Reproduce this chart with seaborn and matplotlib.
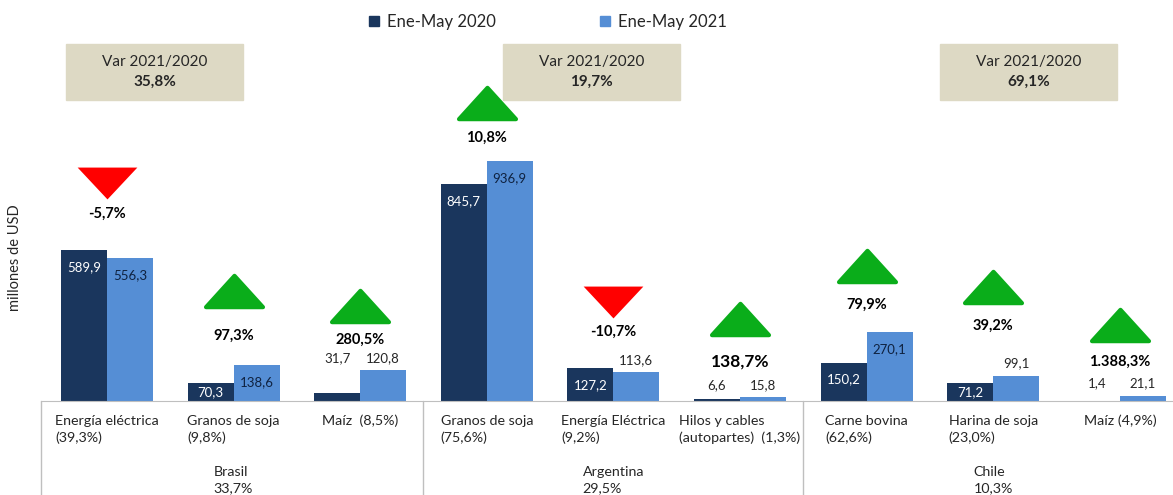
import matplotlib.pyplot as plt
import matplotlib.patches as mpatches
import matplotlib.transforms as mtransforms
from matplotlib.path import Path
from matplotlib.markers import MarkerStyle
import pandas as pd
import seaborn as sns

sns.set_style("white")
plt.rcParams["font.family"] = ["Lato", "DejaVu Sans"]

DARK = "#1A365D"; LIGHT = "#558ED5"
GREEN = "#0AAD1A"; RED = "#FF0000"
TAN = "#DDD9C4"; LINE = "#BFBFBF"; TXT = "#262626"

# ---------------------------------------------------------------------------
# Datos
# ---------------------------------------------------------------------------
productos = ["Energía eléctrica\n(39,3%)", "Granos de soja\n(9,8%)", "Maíz  (8,5%)",
             "Granos de soja\n(75,6%)", "Energía Eléctrica\n(9,2%)",
             "Hilos y cables\n(autopartes)  (1,3%)",
             "Carne bovina\n(62,6%)", "Harina de soja\n(23,0%)", "Maíz (4,9%)"]
ene_may_2020 = [589.9, 70.3, 31.7, 845.7, 127.2, 6.6, 150.2, 71.2, 1.4]
ene_may_2021 = [556.3, 138.6, 120.8, 936.9, 113.6, 15.8, 270.1, 99.1, 21.1]
variacion = ["-5,7%", "97,3%", "280,5%", "10,8%", "-10,7%", "138,7%",
             "79,9%", "39,2%", "1.388,3%"]
paises = ["Brasil\n33,7%", "Argentina\n29,5%", "Chile\n10,3%"]
var_pais = ["35,8%", "19,7%", "69,1%"]
periodos = ["Ene-May 2020", "Ene-May 2021"]

# donde va cada etiqueta de valor (dentro de la barra o encima)
dentro_2020 = [True, True, False, True, True, False, True, True, False]
dentro_2021 = [True, True, False, True, False, False, True, False, False]
# altura (px) del % de variacion sobre la barra mas alta, y del triangulo sobre el %
badge_lift = [36, 30, 30, 23, 37, 35, 27, 50, 34]
tri_gap = [14, 28, 18, 18, 13, 26, 22, 22, 20]

df = pd.DataFrame({
    "producto": productos * 2,
    "periodo": [periodos[0]] * 9 + [periodos[1]] * 9,
    "valor": ene_may_2020 + ene_may_2021,
})

# ---------------------------------------------------------------------------
# Figura
# ---------------------------------------------------------------------------
W, H, DPI = 1173, 495, 100
fig = plt.figure(figsize=(W / DPI, H / DPI), dpi=DPI)
ax = fig.add_axes([41 / W, 94 / H, (W - 41) / W, 401 / H])

sns.barplot(data=df, x="producto", y="valor", hue="periodo", order=productos,
            hue_order=periodos, palette=[DARK, LIGHT], saturation=1,
            width=0.727, gap=0, linewidth=0, legend=False, ax=ax)

PX = 0.2562  # px por millon de USD
ax.set_ylim(0, 401 / PX)
ax.set_xlim(-0.521, 8.42)
ax.set_xlabel(""); ax.set_ylabel("")
ax.set_yticks([])
ax.tick_params(axis="x", length=0, pad=10)
ax.set_xticks(range(9))
ax.set_xticklabels(productos, fontsize=10.3, color=TXT, multialignment="left",
                   linespacing=1.45)
for s in ["top", "right", "left"]:
    ax.spines[s].set_visible(False)
ax.spines["bottom"].set_color(LINE)

# separadores de paises bajo el eje
sep_tr = mtransforms.blended_transform_factory(ax.transData, ax.transAxes)
for xs in [-0.521, 2.5, 5.5]:
    ax.plot([xs, xs], [0, -94 / 401], color=LINE, lw=1, transform=sep_tr, clip_on=False)
for j, txt in enumerate(paises):
    ax.text(1 + 3 * j, -(480 - 401) / 401, txt, transform=sep_tr, ha="center",
            va="center", multialignment="left", fontsize=10.3, color=TXT,
            linespacing=1.4)

# etiquetas de valor
def fmt(v):
    return f"{v:.1f}".replace(".", ",")

bars20, bars21 = ax.containers[0], ax.containers[1]
for i in range(9):
    outs = [v for v, d in ((ene_may_2020[i], dentro_2020[i]),
                           (ene_may_2021[i], dentro_2021[i])) if not d]
    out_top = max(outs) if outs else 0
    for bar, val, d, c_in in ((bars20[i], ene_may_2020[i], dentro_2020[i], "white"),
                              (bars21[i], ene_may_2021[i], dentro_2021[i], "#0F2240")):
        cx = bar.get_x() + bar.get_width() / 2
        if d:
            off = -min(17, val * PX / 2)
            ax.annotate(fmt(val), (cx, val), xytext=(0, off * 0.72),
                        textcoords="offset points", ha="center", va="center",
                        fontsize=9.5, color=c_in)
        else:
            ax.annotate(fmt(val), (cx, out_top), xytext=(0, 12 * 0.72),
                        textcoords="offset points", ha="center", va="center",
                        fontsize=9.5, color=TXT)

# triangulos + % variacion
up_path = Path([(-30, -16.5), (30, -16.5), (0, 16.5), (-30, -16.5)],
               [Path.MOVETO, Path.LINETO, Path.LINETO, Path.CLOSEPOLY])
dn_path = Path([(-30, 16), (30, 16), (0, -16), (-30, 16)],
               [Path.MOVETO, Path.LINETO, Path.LINETO, Path.CLOSEPOLY])
for i in range(9):
    top = max(ene_may_2020[i], ene_may_2021[i])
    sube = not variacion[i].startswith("-")
    lift = badge_lift[i]
    ax.annotate(variacion[i], (i, top), xytext=(0, lift * 0.72),
                textcoords="offset points", ha="center", va="center",
                fontweight="bold", fontsize=12.5 if i == 5 else 10.5, color="black")
    dy = lift + tri_gap[i] + 16.5
    tr = ax.transData + mtransforms.ScaledTranslation(0, dy / DPI, fig.dpi_scale_trans)
    if sube:
        ax.plot([i], [top], marker=MarkerStyle(up_path, joinstyle="round"), ms=41,
                color=GREEN, mec=GREEN, mew=3, transform=tr, clip_on=False, zorder=5)
    else:
        ax.plot([i], [top], marker=MarkerStyle(dn_path), ms=43, color=RED, mew=0,
                transform=tr, clip_on=False, zorder=5)

# cajas de variacion por pais
for x0, v in zip([66, 503, 940], var_pais):
    fig.patches.append(mpatches.Rectangle((x0 / W, 1 - 100 / H), 177 / W, 56 / H,
                                          transform=fig.transFigure, color=TAN,
                                          zorder=0))
    fig.text((x0 + 88.5) / W, 1 - 62 / H, "Var 2021/2020", ha="center", va="center",
             fontsize=11, color=TXT)
    fig.text((x0 + 88.5) / W, 1 - 82 / H, v, ha="center", va="center",
             fontsize=11, fontweight="bold", color=TXT)

# eje y y leyenda
fig.text(15 / W, 1 - 258 / H, "millones de USD", rotation=90, ha="center",
         va="center", fontsize=10.5, color=TXT)
handles = [mpatches.Patch(color=DARK), mpatches.Patch(color=LIGHT)]
fig.legend(handles, periodos, loc="center", bbox_to_anchor=(548 / W, 1 - 22 / H),
           ncol=2, frameon=False, fontsize=12, handlelength=0.6, handleheight=0.6,
           handletextpad=0.5, columnspacing=6.2)

fig.savefig("out.png", dpi=DPI)
